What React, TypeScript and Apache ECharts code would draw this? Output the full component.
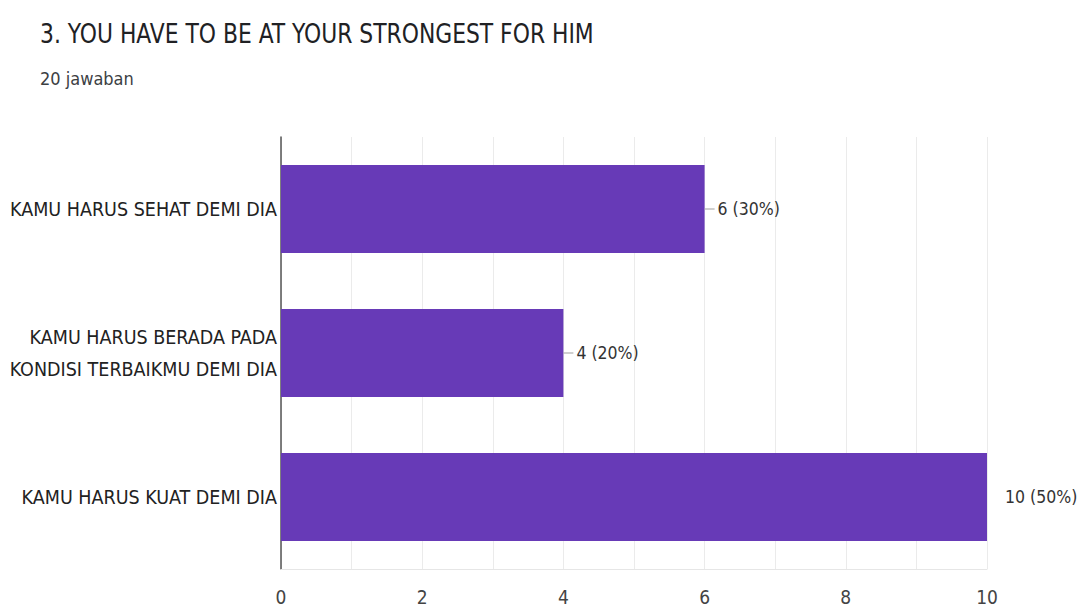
import React, { useEffect, useRef } from "react";
import * as echarts from "echarts";

const titleText = "3. YOU HAVE TO BE AT YOUR STRONGEST FOR HIM";
const subtitleText = "20 jawaban";
const categories = [
  "KAMU HARUS SEHAT DEMI DIA",
  "KAMU HARUS BERADA PADA\nKONDISI TERBAIKMU DEMI DIA",
  "KAMU HARUS KUAT DEMI DIA",
];
const counts = [6, 4, 10];
const percents = [30, 20, 50];
const xTicks = [0, 2, 4, 6, 8, 10];

const FONT = "'Liberation Sans Narrow', 'DejaVu Sans Condensed', Roboto, sans-serif";

export default function App() {
  const ref = useRef<HTMLDivElement>(null);
  useEffect(() => {
    if (!ref.current) return;
    const chart = echarts.init(ref.current, undefined, { renderer: "svg" });
    const maxV = Math.max(...counts);
    chart.setOption({
      animation: false,
      backgroundColor: "#ffffff",
      graphic: [
        {
          type: "text",
          left: 40,
          top: 20,
          scaleX: 0.9,
          style: { text: titleText, font: "27px " + FONT, fill: "#202124" },
        },
        {
          type: "text",
          left: 40,
          top: 69,
          style: { text: subtitleText, font: "18px " + FONT, fill: "#3c4043" },
        },
      ],
      grid: { left: 281, right: 92, top: 137, bottom: 37, containLabel: false },
      xAxis: {
        type: "value",
        min: 0,
        max: 10,
        interval: 1,
        axisLine: { show: true, lineStyle: { color: "#e6e6e6" } },
        axisTick: { show: false },
        splitLine: { show: true, lineStyle: { color: "#ebebeb", width: 1 } },
        axisLabel: {
          fontFamily: FONT,
          fontSize: 19,
          color: "#444444",
          margin: 18,
          formatter: (v: number) => (xTicks.includes(v) ? String(v) : ""),
        },
      },
      yAxis: {
        type: "category",
        data: categories,
        inverse: true,
        axisLine: { show: true, lineStyle: { color: "#555555", width: 1.5 } },
        axisTick: { show: false },
        axisLabel: {
          fontFamily: FONT,
          fontSize: 19.5,
          color: "#222222",
          lineHeight: 32,
          align: "right",
          margin: 4,
        },
      },
      series: [
        {
          type: "bar",
          data: counts.map((c, i) => ({
            value: c,
            label: {
              show: true,
              position: "right",
              distance: c === maxV ? 15 : 0,
              fontFamily: FONT,
              fontSize: 17.5,
              color: "#333333",
              formatter:
                c === maxV
                  ? "{t|" + c + " (" + percents[i] + "%)}"
                  : "{l|}{t|" + c + " (" + percents[i] + "%)}",
              rich: {
                l: { width: 10, height: 1, backgroundColor: "#9e9e9e" },
                t: { fontFamily: FONT, fontSize: 17.5, color: "#333333", padding: [0, 0, 0, 3] },
              },
            },
          })),
          barWidth: 88,
          itemStyle: { color: "#673ab7" },
        },
      ],
    });
    return () => chart.dispose();
  }, []);
  return <div ref={ref} style={{ width: 1079, height: 606, position: "absolute", left: 0, top: 0 }} />;
}
